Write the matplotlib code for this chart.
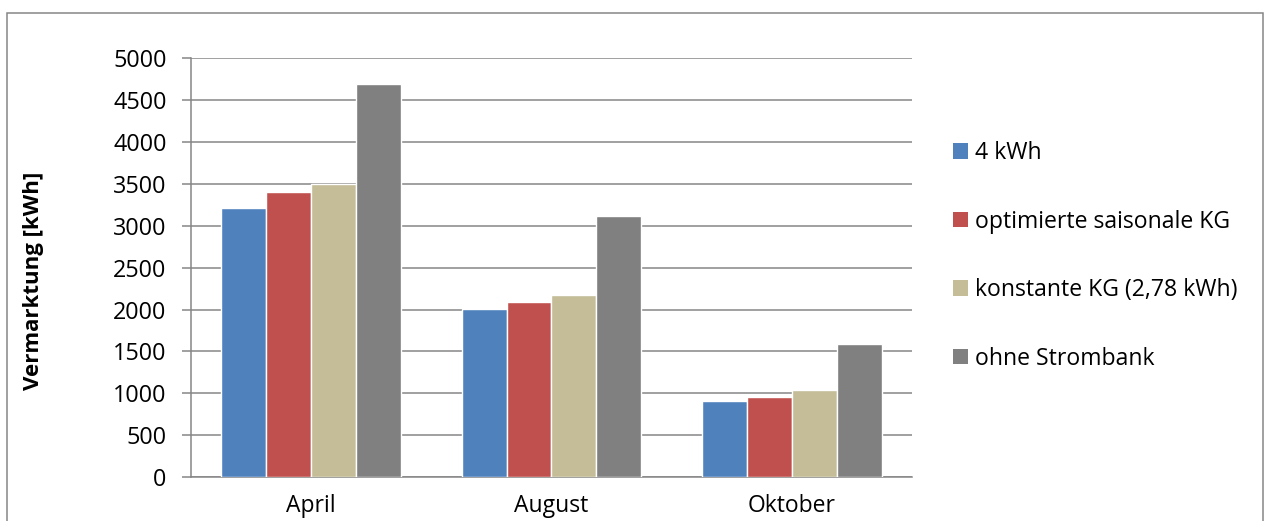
import matplotlib
matplotlib.use("Agg")
import matplotlib.pyplot as plt
from matplotlib.patches import Rectangle, Patch
import numpy as np

categories = ["April", "August", "Oktober"]
series_names = ["4 kWh", "optimierte saisonale KG", "konstante KG (2,78 kWh)", "ohne Strombank"]
vals_4kwh = [3210, 2010, 910]
vals_opt = [3400, 2090, 950]
vals_konst = [3500, 2170, 1040]
vals_ohne = [4690, 3120, 1590]
colors = ["#4F81BD", "#C0504D", "#C4BD97", "#808080"]
yticks = [0, 500, 1000, 1500, 2000, 2500, 3000, 3500, 4000, 4500, 5000]

FONT = ["Open Sans", "DejaVu Sans"]
plt.rcParams["font.family"] = FONT

W, H = 1268, 521
fig = plt.figure(figsize=(W / 100, H / 100), dpi=100)
ax = fig.add_axes([191 / W, 1 - 477 / H, (912 - 191) / W, (477 - 58.3) / H])

x = np.arange(len(categories))
w = 0.1868
all_vals = [vals_4kwh, vals_opt, vals_konst, vals_ohne]
for i, (vals, c) in enumerate(zip(all_vals, colors)):
    ax.bar(x + (i - 1.5) * w, vals, width=w, color=c, edgecolor="white",
           linewidth=1.0, zorder=3)

ax.set_xlim(-0.5, 2.5)
ax.set_ylim(0, 5000)
ax.set_yticks(yticks)
ax.set_yticklabels([str(v) for v in yticks])
ax.set_xticks(x)
ax.set_xticklabels(categories)
ax.yaxis.grid(True, color="#868686", linewidth=1.1, zorder=0)
ax.set_axisbelow(True)
for s in ["top", "right"]:
    ax.spines[s].set_visible(False)
ax.spines["left"].set_color("#868686")
ax.spines["left"].set_linewidth(1.1)
ax.spines["bottom"].set_color("#868686")
ax.spines["bottom"].set_linewidth(1.1)
ax.tick_params(axis="y", direction="out", length=6.5, width=1.1, color="#868686",
               labelsize=16.8, pad=11, labelcolor="black")
ax.tick_params(axis="x", length=0, labelsize=16.5, pad=12, labelcolor="black")

fig.text(34 / W, 1 - 281 / H, "Vermarktung [kWh]", rotation=90, ha="center",
         va="center", fontsize=16, fontweight="bold")

handles = [Patch(facecolor=c, edgecolor="none") for c in colors]
fig.legend(handles, series_names, loc="center left",
           bbox_to_anchor=(953 / W, 1 - 256 / H), frameon=False, fontsize=16.6,
           handlelength=0.65, handleheight=0.65, handletextpad=0.3,
           labelspacing=1.93, borderpad=0, borderaxespad=0)

fig.patches.append(Rectangle((7 / W, -0.1), (1263 - 7) / W, (1 - 13 / H) + 0.1,
                             transform=fig.transFigure, fill=False,
                             edgecolor="#868686", linewidth=1.1, zorder=0))

fig.savefig("out.png", dpi=100)
